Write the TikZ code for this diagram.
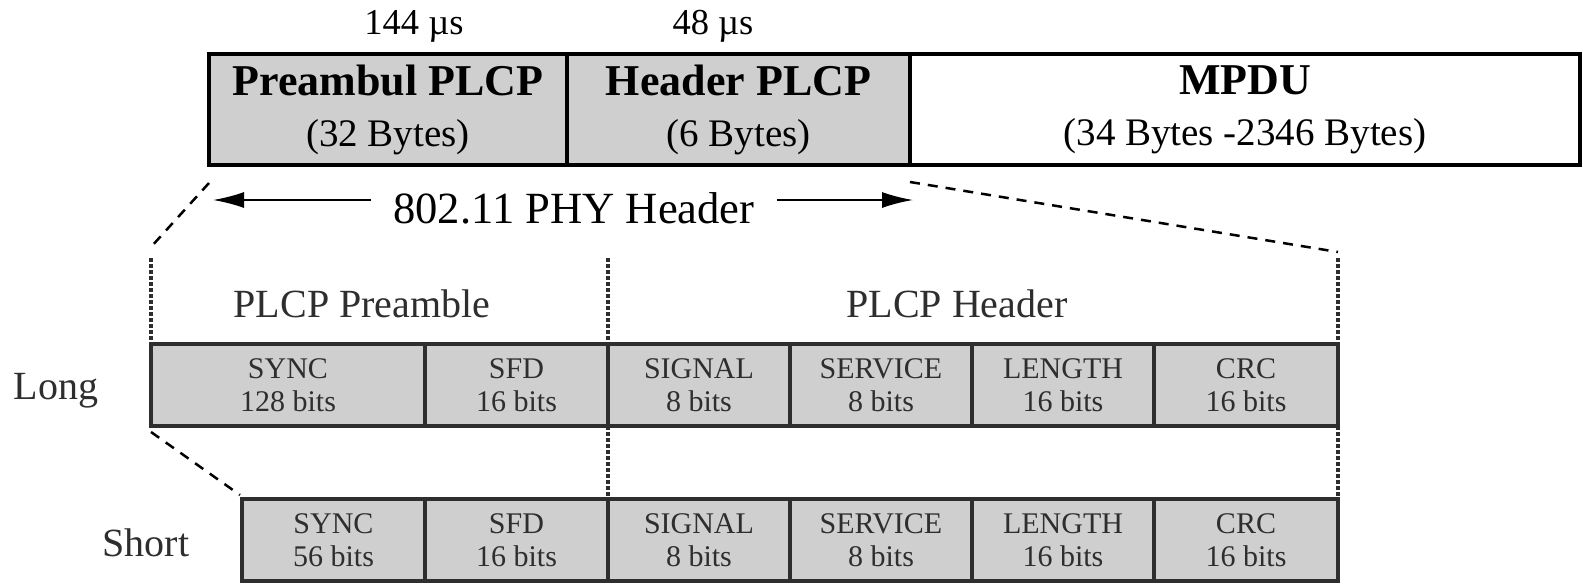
\documentclass[tikz,border=0pt]{standalone}
\usepackage{fontspec}
\setmainfont{Liberation Serif}
\usetikzlibrary{arrows.meta}
\definecolor{cellgrey}{HTML}{CFCFCF}
\definecolor{darkline}{HTML}{2E2E2E}
\begin{document}
\begin{tikzpicture}[x=1pt,y=-1pt,
  topcell/.style={draw=black, line width=4pt, fill=cellgrey, inner sep=0pt, outer sep=0pt,
    minimum height=111pt, align=center, font=\fontsize{39}{51}\selectfont},
  bitcell/.style={draw=darkline, line width=3.6pt, fill=cellgrey, inner sep=0pt, outer sep=0pt,
    minimum height=82pt, align=center, text=darkline, font=\fontsize{30}{33}\selectfont},
  timelabel/.style={inner sep=0pt, font=\fontsize{36.5}{40}\selectfont},
  grouplabel/.style={inner sep=0pt, text=darkline, font=\fontsize{40}{44}\selectfont},
  rowlabel/.style={inner sep=0pt, text=darkline, font=\fontsize{40}{44}\selectfont},
  zoomline/.style={line width=2.5pt, dash pattern=on 10pt off 8pt},
  dotline/.style={draw=darkline, line width=3.8pt, dash pattern=on 4pt off 2pt},
  phyarrow/.style={line width=1.8pt, -{Latex[length=31pt,width=16pt]}},
]
\useasboundingbox (0,0) rectangle (1583,584);

% time labels
\node[timelabel] (t144) at (414,26) {144 µs};
\node[timelabel] (t48) at (713,26) {48 µs};

% top bar
\node[topcell, minimum width=358pt] (pre) at (388,109.5)
  {{\bfseries\fontsize{44}{51}\selectfont Preambul PLCP}\\(32 Bytes)};
\node[topcell, minimum width=343pt] (hdr) at (738.5,109.5)
  {{\bfseries\fontsize{44}{51}\selectfont Header PLCP}\\(6 Bytes)};
\node[topcell, minimum width=670pt, fill=white] (mpdu) at (1245,109.5)
  {{\bfseries\fontsize{44}{51}\selectfont MPDU}\\(34 Bytes -2346 Bytes)};

% PHY header arrow
\node[inner xsep=22pt, inner ysep=0pt, font=\fontsize{44.6}{48}\selectfont] (phy) at (574,208) {802.11 PHY Header};
\coordinate (tipL) at (213,200);
\coordinate (tipR) at (913,200);
\draw[phyarrow] (phy.west |- tipL) -- (tipL);
\draw[phyarrow] (phy.east |- tipR) -- (tipR);

% zoom dashed lines
\coordinate (zl1) at (209,183);
\coordinate (zl2) at (151,247);
\coordinate (zr1) at (910,182);
\coordinate (zr2) at (1338,252);
\draw[zoomline] (zl1) -- (zl2);
\draw[zoomline] (zr1) -- (zr2);

% group labels
\node[grouplabel] (gpre) at (362,304) {PLCP Preamble};
\node[grouplabel] (ghdr) at (957,304) {PLCP Header};

% long row
\node[bitcell, minimum width=274pt] (lsync) at (288,385) {SYNC\\128 bits};
\node[bitcell, minimum width=183pt] (lsfd) at (516.5,385) {SFD\\16 bits};
\node[bitcell, minimum width=182pt] (lsig) at (699,385) {SIGNAL\\8 bits};
\node[bitcell, minimum width=182pt] (lser) at (881,385) {SERVICE\\8 bits};
\node[bitcell, minimum width=182pt] (llen) at (1063,385) {LENGTH\\16 bits};
\node[bitcell, minimum width=184pt] (lcrc) at (1246,385) {CRC\\16 bits};
\node[rowlabel] (long) at (56,391) {Long};

% short row
\node[bitcell, minimum width=183pt] (ssync) at (333.5,540) {SYNC\\56 bits};
\node[bitcell, minimum width=183pt] (ssfd) at (516.5,540) {SFD\\16 bits};
\node[bitcell, minimum width=182pt] (ssig) at (699,540) {SIGNAL\\8 bits};
\node[bitcell, minimum width=182pt] (sser) at (881,540) {SERVICE\\8 bits};
\node[bitcell, minimum width=182pt] (slen) at (1063,540) {LENGTH\\16 bits};
\node[bitcell, minimum width=184pt] (scrc) at (1246,540) {CRC\\16 bits};
\node[rowlabel] (short) at (146,543) {Short};

% dotted boundaries
\coordinate (d1) at (151,258);
\coordinate (d2) at (608,258);
\coordinate (d3) at (1338,258);
\draw[dotline] (d1) -- (lsync.north west);
\draw[dotline] (d2) -- (ssfd.north east);
\draw[dotline] (d3) -- (scrc.north east);

% long-to-short dashed
\coordinate (ls1) at (151,432);
\coordinate (ls2) at (240,495);
\draw[zoomline] (ls1) -- (ls2);
\end{tikzpicture}
\end{document}
